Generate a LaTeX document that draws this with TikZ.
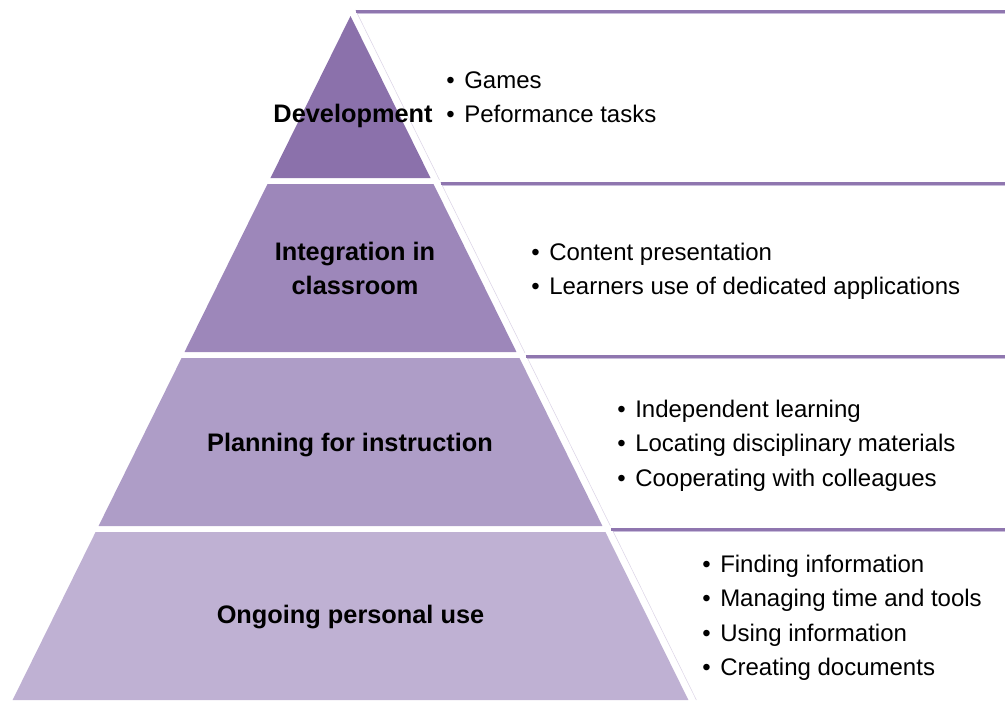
\documentclass[tikz,border=0pt]{standalone}
\usepackage{fontspec}
\setmainfont{Liberation Sans}
\definecolor{lvA}{HTML}{8B71AB}
\definecolor{lvB}{HTML}{9D87BA}
\definecolor{lvC}{HTML}{AE9DC7}
\definecolor{lvD}{HTML}{BFB1D3}
\definecolor{rule}{HTML}{8F76AF}
\definecolor{ruleshade}{HTML}{C9BDDB}
\definecolor{boxedge}{HTML}{DCD4E6}
\newcommand{\itm}[1]{\makebox[0.75em][l]{\textbullet}#1}

\begin{document}
\begin{tikzpicture}[x=0.75pt,y=-0.75pt]
   \tikzstyle{level}=[font=\fontsize{19}{25.5}\selectfont\bfseries, align=center, inner sep=0pt]
   \tikzstyle{item}=[font=\fontsize{18}{26}\selectfont, anchor=base west, inner sep=0pt]
   \useasboundingbox (0,0) rectangle (1005,700);
   % pyramid
   \foreach \t/\b/\c in {16/178/lvA,184/352/lvB,358/526/lvC,532/700/lvD}
       \fill[\c] ({350.5-0.494*(\t-16)},\t) -- ({350.5+0.494*(\t-16)},\t)
          -- ({350.5+0.494*(\b-16)},\b) -- ({350.5-0.494*(\b-16)},\b) -- cycle;
   % boxes
   \foreach \t/\b in {10/180,182/353,355/526,528/700} {
       \draw[boxedge] ({358.5+0.494*(\t-16)},\t) -- ({358.5+0.494*(\b-16)},\b);
       \draw[ruleshade, line width=1.2pt] ({360+0.494*(\t-16)},{\t+3.5}) -- (1005,{\t+3.5});
       \draw[rule, line width=2.2pt] ({358.5+0.494*(\t-16)},{\t+1.5}) -- (1005,{\t+1.5});
   }
   \node[level, anchor=base] (dev) at (353,122.5) {Development};
   \node[level] (integ) at (355,268) {Integration in\\classroom};
   \node[level, anchor=base] (plan) at (350,451) {Planning for instruction};
   \node[level, anchor=base] (use) at (350.5,623) {Ongoing personal use};
   \foreach \s [count=\k from 0] in {Games,Peformance tasks}
       \node[item] (dev\k) at (446,{88+34.5*\k}) {\itm{\s}};
   \foreach \s [count=\k from 0] in {Content presentation,Learners use of dedicated applications}
       \node[item] (integ\k) at (531,{260+34.5*\k}) {\itm{\s}};
   \foreach \s [count=\k from 0] in {Independent learning,Locating disciplinary materials,Cooperating with colleagues}
       \node[item] (plan\k) at (617,{417+34.5*\k}) {\itm{\s}};
   \foreach \s [count=\k from 0] in {Finding information,Managing time and tools,Using information,Creating documents}
       \node[item] (use\k) at (702,{572+34.5*\k}) {\itm{\s}};
\end{tikzpicture}
\end{document}
